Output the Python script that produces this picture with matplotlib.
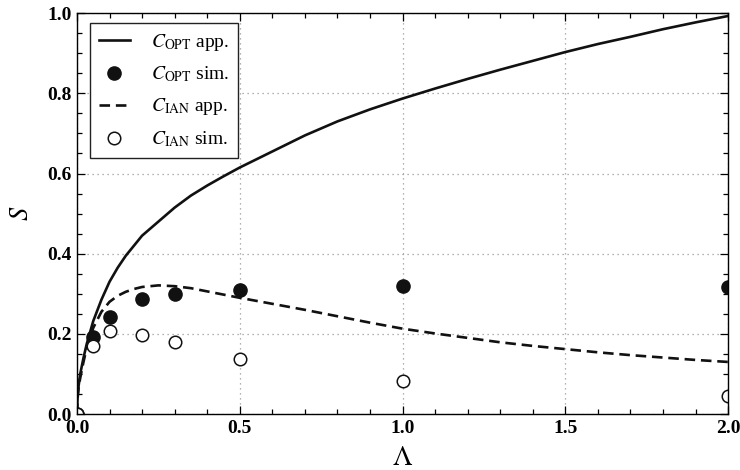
import matplotlib
matplotlib.use("Agg")
import matplotlib.pyplot as plt
from matplotlib.ticker import MultipleLocator

# C_OPT approximation (solid curve)
lam_opt = [0, 0.002, 0.005, 0.01, 0.02, 0.03, 0.05, 0.075, 0.1, 0.125, 0.15, 0.175, 0.2, 0.25,
           0.3, 0.35, 0.4, 0.45, 0.5, 0.6, 0.7, 0.8, 0.9, 1.0, 1.1, 1.2, 1.3, 1.4, 1.5, 1.6,
           1.7, 1.8, 1.9, 2.0]
s_opt_app = [0, 0.045, 0.07, 0.10, 0.14, 0.175, 0.232, 0.285, 0.33, 0.365, 0.395, 0.42, 0.445,
             0.48, 0.515, 0.545, 0.57, 0.593, 0.615, 0.655, 0.695, 0.73, 0.76, 0.787, 0.812,
             0.836, 0.859, 0.881, 0.903, 0.923, 0.941, 0.96, 0.977, 0.993]

# C_IAN approximation (dashed curve)
lam_ian = [0, 0.002, 0.005, 0.01, 0.02, 0.03, 0.05, 0.075, 0.1, 0.125, 0.15, 0.175, 0.2, 0.25,
           0.3, 0.35, 0.4, 0.45, 0.5, 0.6, 0.7, 0.8, 0.9, 1.0, 1.1, 1.2, 1.3, 1.4, 1.5, 1.6,
           1.7, 1.8, 1.9, 2.0]
s_ian_app = [0, 0.04, 0.065, 0.09, 0.13, 0.165, 0.215, 0.255, 0.28, 0.295, 0.305, 0.312, 0.317,
             0.321, 0.319, 0.314, 0.306, 0.298, 0.29, 0.275, 0.26, 0.244, 0.228, 0.213, 0.201,
             0.19, 0.179, 0.17, 0.162, 0.154, 0.147, 0.141, 0.135, 0.13]

# simulation points
lam_sim = [0, 0.05, 0.1, 0.2, 0.3, 0.5, 1.0, 2.0]
s_opt_sim = [0, 0.191, 0.241, 0.287, 0.300, 0.310, 0.320, 0.318]
s_ian_sim = [0, 0.171, 0.206, 0.198, 0.179, 0.137, 0.083, 0.046]

plt.rcParams["font.family"] = "Liberation Serif"
plt.rcParams["mathtext.fontset"] = "stix"

fig = plt.figure(figsize=(7.4, 4.7), dpi=100)
ax = fig.add_axes([0.104, 0.119, 0.88, 0.853])

ax.plot(lam_opt, s_opt_app, "-", color="#111111", lw=1.9, label=r"$C_{\mathrm{OPT}}$ app.")
ax.plot(lam_sim, s_opt_sim, "o", color="#111111", ms=9.5, label=r"$C_{\mathrm{OPT}}$ sim.")
ax.plot(lam_ian, s_ian_app, "--", color="#111111", lw=1.9, dashes=(4, 2.2),
        label=r"$C_{\mathrm{IAN}}$ app.")
ax.plot(lam_sim, s_ian_sim, "o", mfc="white", mec="#111111", mew=1.1, ms=9,
        label=r"$C_{\mathrm{IAN}}$ sim.")

ax.set_xlim(0, 2.0)
ax.set_ylim(0, 1.0)
ax.xaxis.set_major_locator(MultipleLocator(0.5))
ax.xaxis.set_minor_locator(MultipleLocator(0.1))
ax.yaxis.set_major_locator(MultipleLocator(0.2))
ax.yaxis.set_minor_locator(MultipleLocator(0.05))
ax.tick_params(which="both", direction="in", top=True, right=True, width=0.9)
ax.tick_params(which="major", length=6, labelsize=14, pad=4)
ax.tick_params(which="minor", length=3.5)
for lab in ax.get_xticklabels() + ax.get_yticklabels():
    lab.set_fontweight("bold")
for sp in ax.spines.values():
    sp.set_linewidth(1.0)

ax.grid(True, which="major", ls=(0, (1, 3)), color="#999999", lw=0.9)

ax.set_xlabel(r"$\Lambda$", fontsize=20, labelpad=7)
ax.set_ylabel(r"$S$", fontsize=19, labelpad=10)

leg = ax.legend(loc="upper left", bbox_to_anchor=(0.02, 0.976), fontsize=14, frameon=True,
                fancybox=False, edgecolor="#222222", framealpha=1, handlelength=1.6,
                handletextpad=1.1, labelspacing=0.62, borderpad=0.45, borderaxespad=0)
leg.get_frame().set_linewidth(1.0)

fig.savefig("out.png", dpi=100)
